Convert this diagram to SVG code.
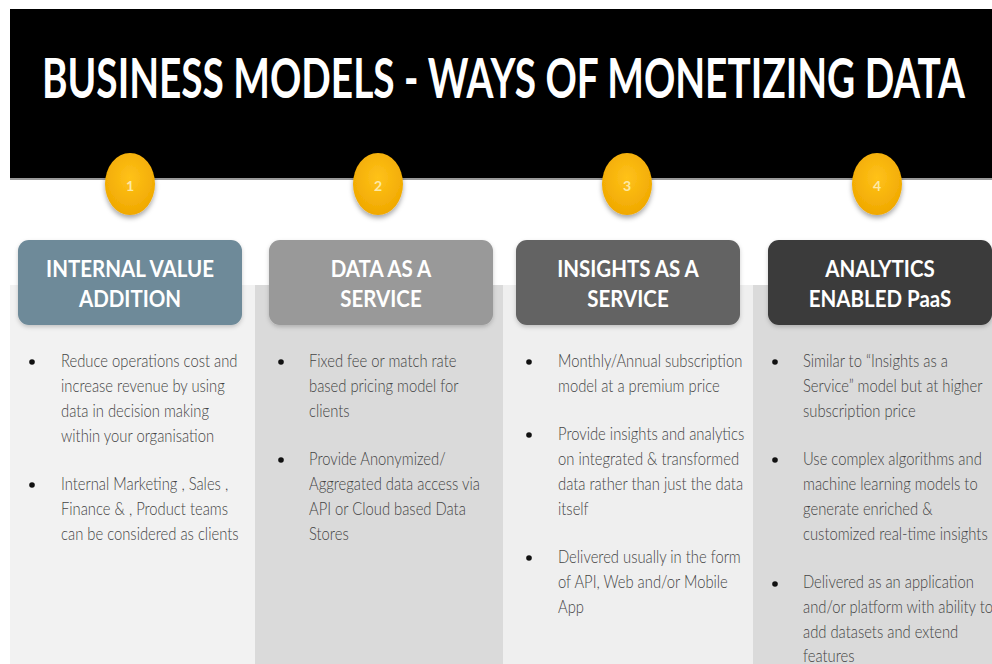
<svg xmlns="http://www.w3.org/2000/svg" width="992" height="664" viewBox="0 0 992 664">
<defs>
<style>
.title{font-family:"Lato","Liberation Sans",sans-serif;font-weight:700;font-size:38px;fill:#ffffff}
.num{font-family:"Lato","Liberation Sans",sans-serif;font-weight:700;font-size:14px;fill:#fde9a6;text-anchor:middle}
.hdr{font-family:"Lato","Liberation Sans",sans-serif;font-weight:700;font-size:20.5px;fill:#ffffff;text-anchor:middle}
.body{font-family:"Lato","Liberation Sans",sans-serif;font-weight:300;font-size:14.8px;fill:#444444}
.dot{fill:#111111}
.badge{fill:url(#gold)}
</style>
<radialGradient id="gold" cx="50%" cy="40%" r="60%">
<stop offset="0" stop-color="#ffc21a"/>
<stop offset="1" stop-color="#f0a800"/>
</radialGradient>
<filter id="sh" x="-40%" y="-40%" width="180%" height="180%">
<feDropShadow dx="0" dy="3" stdDeviation="2.5" flood-color="#000" flood-opacity="0.35"/>
</filter>
<filter id="bsh" x="-10%" y="-10%" width="120%" height="130%">
<feDropShadow dx="0" dy="2" stdDeviation="2" flood-color="#000" flood-opacity="0.2"/>
</filter>
</defs>
<rect width="992" height="664" fill="#ffffff"/>
<!-- column backgrounds -->
<rect x="10" y="285" width="245" height="379" fill="#f2f2f2"/>
<rect x="255" y="285" width="248" height="379" fill="#dadada"/>
<rect x="503" y="285" width="250" height="379" fill="#efefef"/>
<rect x="753" y="285" width="239" height="379" fill="#dadada"/>
<!-- black banner -->
<rect x="10" y="178" width="982" height="2" fill="#9a9a9a"/>
<rect x="10" y="9" width="982" height="169" fill="#000000"/>
<text class="title" transform="translate(42,98) scale(1,1.447)" x="0" y="0" textLength="923" lengthAdjust="spacingAndGlyphs">BUSINESS MODELS - WAYS OF MONETIZING DATA</text>

<g id="node1">
<ellipse class="badge" cx="130" cy="184" rx="25" ry="31" filter="url(#sh)"/>
<text class="num" x="130" y="191">1</text>
<rect x="18" y="240" width="224" height="85" rx="11" fill="#6e8a99" filter="url(#bsh)"/>
<text class="hdr" transform="translate(130,277) scale(1,1.15)">INTERNAL VALUE</text>
<text class="hdr" transform="translate(130,307) scale(1,1.15)">ADDITION</text>
<circle class="dot" cx="32" cy="362" r="2.8"/>
<circle class="dot" cx="32" cy="485" r="2.8"/>
<g transform="translate(61,367) scale(1,1.2)">
<text class="body" x="0" y="0">Reduce operations cost and</text>
<text class="body" x="0" y="20.83">increase revenue by using</text>
<text class="body" x="0" y="41.67">data in decision making</text>
<text class="body" x="0" y="62.5">within your organisation</text>
<text class="body" x="0" y="102.5">Internal Marketing , Sales ,</text>
<text class="body" x="0" y="123.33">Finance &amp; , Product teams</text>
<text class="body" x="0" y="144.17">can be considered as clients</text>
</g>
</g>

<g id="node2">
<ellipse class="badge" cx="378" cy="184" rx="25" ry="31" filter="url(#sh)"/>
<text class="num" x="378" y="191">2</text>
<rect x="269" y="240" width="224" height="85" rx="11" fill="#999999" filter="url(#bsh)"/>
<text class="hdr" transform="translate(381,277) scale(1,1.15)">DATA AS A</text>
<text class="hdr" transform="translate(381,307) scale(1,1.15)">SERVICE</text>
<circle class="dot" cx="281" cy="362" r="2.8"/>
<circle class="dot" cx="281" cy="460" r="2.8"/>
<g transform="translate(309,367) scale(1,1.2)">
<text class="body" x="0" y="0">Fixed fee or match rate</text>
<text class="body" x="0" y="20.83">based pricing model for</text>
<text class="body" x="0" y="41.67">clients</text>
<text class="body" x="0" y="81.67">Provide Anonymized/</text>
<text class="body" x="0" y="102.5">Aggregated data access via</text>
<text class="body" x="0" y="123.33">API or Cloud based Data</text>
<text class="body" x="0" y="144.17">Stores</text>
</g>
</g>

<g id="node3">
<ellipse class="badge" cx="627" cy="184" rx="25" ry="31" filter="url(#sh)"/>
<text class="num" x="627" y="191">3</text>
<rect x="516" y="240" width="224" height="85" rx="11" fill="#636363" filter="url(#bsh)"/>
<text class="hdr" transform="translate(628,277) scale(1,1.15)">INSIGHTS AS A</text>
<text class="hdr" transform="translate(628,307) scale(1,1.15)">SERVICE</text>
<circle class="dot" cx="529" cy="362" r="2.8"/>
<circle class="dot" cx="529" cy="435" r="2.8"/>
<circle class="dot" cx="529" cy="558" r="2.8"/>
<g transform="translate(558,367) scale(1,1.2)">
<text class="body" x="0" y="0">Monthly/Annual subscription</text>
<text class="body" x="0" y="20.83">model at a premium price</text>
<text class="body" x="0" y="60.83">Provide insights and analytics</text>
<text class="body" x="0" y="81.67">on integrated &amp; transformed</text>
<text class="body" x="0" y="102.5">data rather than just the data</text>
<text class="body" x="0" y="123.33">itself</text>
<text class="body" x="0" y="163.33">Delivered usually in the form</text>
<text class="body" x="0" y="184.17">of API, Web and/or Mobile</text>
<text class="body" x="0" y="205">App</text>
</g>
</g>

<g id="node4">
<ellipse class="badge" cx="877" cy="184" rx="25" ry="31" filter="url(#sh)"/>
<text class="num" x="877" y="191">4</text>
<rect x="768" y="240" width="224" height="85" rx="11" fill="#3a3a3a" filter="url(#bsh)"/>
<text class="hdr" transform="translate(880,277) scale(1,1.15)">ANALYTICS</text>
<text class="hdr" transform="translate(880,307) scale(1,1.15)">ENABLED PaaS</text>
<circle class="dot" cx="775" cy="362" r="2.8"/>
<circle class="dot" cx="775" cy="460" r="2.8"/>
<circle class="dot" cx="775" cy="584" r="2.8"/>
<g transform="translate(803,367) scale(1,1.2)">
<text class="body" x="0" y="0">Similar to “Insights as a</text>
<text class="body" x="0" y="20.83">Service” model but at higher</text>
<text class="body" x="0" y="41.67">subscription price</text>
<text class="body" x="0" y="81.67">Use complex algorithms and</text>
<text class="body" x="0" y="102.5">machine learning models to</text>
<text class="body" x="0" y="123.33">generate enriched &amp;</text>
<text class="body" x="0" y="144.17">customized real-time insights</text>
<text class="body" x="0" y="184.17">Delivered as an application</text>
<text class="body" x="0" y="205">and/or platform with ability to</text>
<text class="body" x="0" y="225.83">add datasets and extend</text>
<text class="body" x="0" y="245.83">features</text>
</g>
</g>
</svg>
